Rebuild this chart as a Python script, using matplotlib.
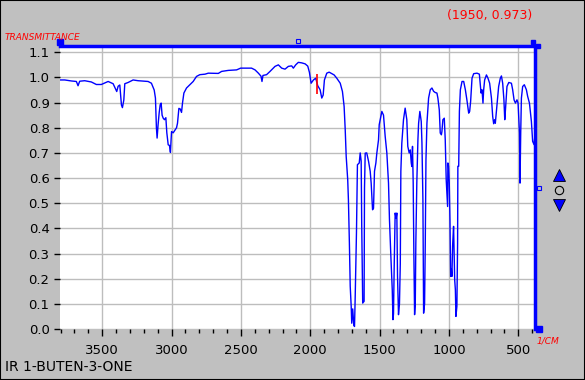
import numpy as np
import matplotlib.pyplot as plt
from matplotlib.patches import Rectangle

# spectrum (wavenumber in 1/cm, transmittance)
wavenumber = [3800, 3770, 3722, 3686, 3674, 3662, 3626, 3578, 3542, 3506,
              3457, 3421, 3404, 3395, 3385, 3373, 3361, 3354, 3344, 3337,
              3313, 3277, 3241, 3193, 3169, 3145, 3125, 3116, 3109, 3104,
              3097, 3089, 3082, 3075, 3068, 3060, 3051, 3041, 3034, 3024,
              3015, 3008, 3000, 2988, 2976, 2964, 2957, 2947, 2938, 2928,
              2921, 2911, 2892, 2868, 2844, 2820, 2796, 2759, 2735, 2663,
              2639, 2591, 2531, 2502, 2423, 2398, 2374, 2355, 2348, 2341,
              2315, 2290, 2254, 2230, 2206, 2182, 2158, 2134, 2122, 2105,
              2086, 2062, 2037, 2018, 2006, 1994, 1977, 1961, 1946, 1929,
              1917, 1907, 1898, 1881, 1864, 1845, 1828, 1809, 1784, 1768,
              1756, 1748, 1741, 1730, 1725, 1718, 1712, 1705, 1701, 1694,
              1686, 1681, 1676, 1667, 1660, 1647, 1640, 1633, 1629, 1622,
              1612, 1609, 1604, 1593, 1580, 1568, 1561, 1551, 1544, 1537,
              1527, 1520, 1508, 1503, 1496, 1484, 1472, 1460, 1448, 1436,
              1429, 1419, 1409, 1404, 1400, 1395, 1388, 1381, 1376, 1371,
              1364, 1357, 1351, 1347, 1340, 1328, 1316, 1304, 1297, 1287,
              1279, 1272, 1268, 1263, 1258, 1253, 1248, 1243, 1239, 1232,
              1224, 1219, 1210, 1200, 1195, 1188, 1183, 1176, 1171, 1166,
              1159, 1147, 1135, 1123, 1111, 1099, 1087, 1080, 1070, 1063,
              1055, 1051, 1044, 1034, 1027, 1020, 1010, 1008, 1003, 998,
              993, 988, 983, 979, 974, 967, 959, 954, 950, 943,
              938, 936, 930, 925, 918, 906, 894, 882, 871, 858,
              851, 844, 834, 822, 798, 781, 774, 769, 762, 755,
              750, 743, 730, 719, 707, 694, 685, 678, 671, 666,
              654, 642, 630, 622, 613, 604, 598, 593, 582, 569,
              550, 541, 531, 521, 510, 502, 492, 488, 483, 478,
              469, 457, 442, 433, 420, 406, 397, 387, 382]
transmittance = [0.990, 0.990, 0.986, 0.984, 0.967, 0.985, 0.987, 0.982, 0.972, 0.972,
                 0.984, 0.975, 0.955, 0.944, 0.965, 0.970, 0.890, 0.880, 0.910, 0.975,
                 0.980, 0.990, 0.987, 0.985, 0.984, 0.977, 0.950, 0.918, 0.800, 0.759,
                 0.812, 0.860, 0.891, 0.898, 0.850, 0.838, 0.832, 0.840, 0.780, 0.732,
                 0.730, 0.702, 0.785, 0.780, 0.790, 0.800, 0.818, 0.877, 0.875, 0.861,
                 0.898, 0.938, 0.958, 0.971, 0.984, 1.004, 1.011, 1.013, 1.017, 1.016,
                 1.024, 1.028, 1.030, 1.037, 1.037, 1.030, 1.017, 1.005, 0.984, 1.008,
                 1.011, 1.024, 1.044, 1.050, 1.037, 1.033, 1.044, 1.046, 1.037, 1.050,
                 1.060, 1.058, 1.054, 1.045, 1.020, 0.977, 0.990, 0.997, 0.967, 0.951,
                 0.918, 0.930, 0.990, 1.017, 1.021, 1.015, 1.010, 0.997, 0.977, 0.944,
                 0.885, 0.792, 0.686, 0.593, 0.514, 0.342, 0.170, 0.090, 0.023, 0.080,
                 0.015, 0.010, 0.130, 0.381, 0.653, 0.660, 0.700, 0.667, 0.408, 0.103,
                 0.110, 0.560, 0.699, 0.700, 0.667, 0.627, 0.580, 0.474, 0.480, 0.627,
                 0.660, 0.700, 0.752, 0.812, 0.832, 0.865, 0.850, 0.766, 0.700, 0.580,
                 0.434, 0.289, 0.156, 0.037, 0.060, 0.249, 0.461, 0.440, 0.461, 0.210,
                 0.057, 0.100, 0.260, 0.627, 0.739, 0.832, 0.878, 0.832, 0.726, 0.700,
                 0.712, 0.660, 0.646, 0.726, 0.580, 0.289, 0.057, 0.100, 0.340, 0.580,
                 0.752, 0.818, 0.865, 0.825, 0.740, 0.514, 0.063, 0.100, 0.340, 0.673,
                 0.818, 0.918, 0.951, 0.958, 0.945, 0.940, 0.938, 0.918, 0.871, 0.779,
                 0.772, 0.785, 0.832, 0.838, 0.752, 0.593, 0.487, 0.660, 0.647, 0.580,
                 0.434, 0.209, 0.240, 0.209, 0.330, 0.408, 0.196, 0.156, 0.050, 0.090,
                 0.340, 0.647, 0.647, 0.865, 0.951, 0.984, 0.984, 0.951, 0.911, 0.858,
                 0.865, 0.905, 0.997, 1.015, 1.017, 1.013, 0.971, 0.938, 0.951, 0.898,
                 0.951, 0.990, 1.010, 0.997, 0.977, 0.918, 0.845, 0.816, 0.832, 0.818,
                 0.891, 0.964, 0.997, 1.006, 0.977, 0.911, 0.832, 0.871, 0.964, 0.980,
                 0.977, 0.951, 0.911, 0.898, 0.911, 0.898, 0.779, 0.580, 0.779, 0.918,
                 0.964, 0.971, 0.951, 0.925, 0.898, 0.825, 0.746, 0.733, 0.760]

x_range = [3804, 380]
y_range = [0.0, 1.125]
x_major = [3500, 3000, 2500, 2000, 1500, 1000, 500]
y_major = [0.0, 0.1, 0.2, 0.3, 0.4, 0.5, 0.6, 0.7, 0.8, 0.9, 1.0, 1.1]
cursor_x = 1950
cursor_label = "(1950, 0.973)"
title = "IR 1-BUTEN-3-ONE"

bg = '#c0c0c0'
blue = '#0000ff'

fig = plt.figure(figsize=(5.85, 3.8), dpi=100, facecolor=bg)
fig.patches.append(Rectangle((0, 0), 1, 1, transform=fig.transFigure,
                             fill=False, edgecolor='black', linewidth=1.5))

ax = fig.add_axes([60/585, 51/380, 475/585, 283/380])
ax.set_facecolor('white')
ax.plot(wavenumber, transmittance, color=blue, linewidth=1.0)
ax.vlines(cursor_x, 0.935, 1.015, color='red', linewidth=1.2, zorder=5)

ax.set_xlim(x_range)
ax.set_ylim(y_range)
ax.set_xticks(x_major)
ax.set_xticks(np.arange(400, 3801, 100), minor=True)
ax.set_yticks(y_major)
ax.set_yticklabels([f"{v:.1f}" for v in y_major])
ax.grid(True, which='major', color='#bdbdbd', linewidth=1.0)
ax.set_axisbelow(True)

for s in ['left', 'bottom']:
    ax.spines[s].set_visible(False)
ax.spines['top'].set_color(blue)
ax.spines['top'].set_linewidth(2.5)
ax.spines['right'].set_color(blue)
ax.spines['right'].set_linewidth(2.5)

ax.tick_params(axis='both', which='major', direction='out', length=4,
               width=1, color='black', labelsize=9.5, labelcolor='black')
ax.tick_params(axis='x', which='major', length=5, pad=6)
ax.tick_params(axis='x', which='minor', length=3, width=1, color='black')

# corner handles and small widgets
ax.plot([0], [1.015], marker='s', ms=4, color=blue, transform=ax.transAxes, clip_on=False)
ax.plot([0.995], [1.015], marker='s', ms=3.5, color=blue, transform=ax.transAxes, clip_on=False)
ax.plot([1.006], [1.0], marker='s', ms=3.5, color=blue, transform=ax.transAxes, clip_on=False)
ax.plot([1.008], [0.0], marker='s', ms=4.5, color=blue, transform=ax.transAxes, clip_on=False)
ax.plot([0.5], [1.018], marker='s', ms=3.5, mfc='none', mec=blue, mew=0.8,
        transform=ax.transAxes, clip_on=False)
ax.plot([1.008], [0.5], marker='s', ms=3.5, mfc='none', mec=blue, mew=0.8,
        transform=ax.transAxes, clip_on=False)

# up/down scale buttons
fig.add_artist(plt.Line2D([559/585], [1 - 175/380], marker='^', ms=9, color=blue,
                          mec='black', mew=0.6, transform=fig.transFigure))
fig.add_artist(plt.Line2D([559/585], [1 - 205/380], marker='v', ms=9, color=blue,
                          mec='black', mew=0.6, transform=fig.transFigure))
fig.add_artist(plt.Line2D([559/585], [1 - 190/380], marker='o', ms=6, mfc='none',
                          mec='black', mew=0.8, transform=fig.transFigure))

fig.text(5/585, 1 - 37/380, 'TRANSMITTANCE', color='red', fontsize=6.5,
         style='italic', ha='left', va='center')
fig.text(537/585, 1 - 341/380, '1/CM', color='red', fontsize=6.5,
         style='italic', ha='left', va='center')
fig.text(490/585, 1 - 15/380, cursor_label, color='red', fontsize=9,
         ha='center', va='center')
fig.text(5/585, 1 - 367/380, title, color='black', fontsize=10,
         ha='left', va='center')

fig.savefig('out.png', dpi=100, facecolor=bg)
